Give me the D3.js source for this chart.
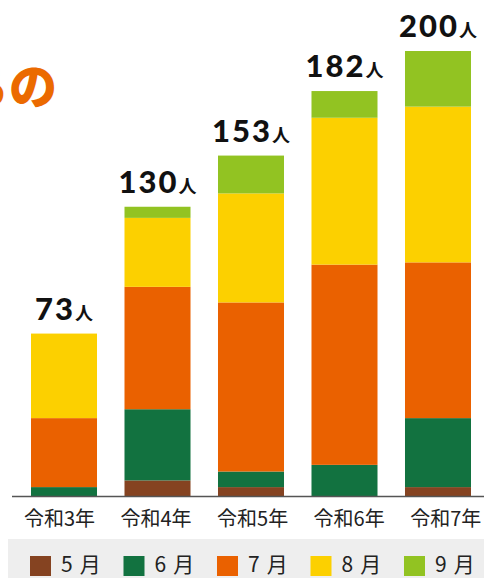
<!DOCTYPE html>
<html><head><meta charset="utf-8">
<script src="https://cdn.jsdelivr.net/npm/d3@7"></script>
<style>
html,body{margin:0;padding:0;background:#fff;}
svg{display:block;}
</style></head>
<body>
<svg id="c" width="484" height="578"></svg>
<script>
const years = ["令和3年","令和4年","令和5年","令和6年","令和7年"];
const months = ["5月","6月","7月","8月","9月"];
const colors = ["#854321","#127240","#EA6100","#FCD000","#92C322"];
const may  = [0, 7, 4, 0, 4];
const jun  = [4, 32, 7, 14, 31];
const jul  = [31, 55, 76, 90, 70];
const aug  = [38, 31, 49, 66, 70];
const sep  = [0, 5, 17, 12, 25];
const totals = [73, 130, 153, 182, 200];
const unit = "人";
const titleFragment = "ちの";

const svg = d3.select("#c");
const series = [may, jun, jul, aug, sep];
const rows = years.map((y, i) => {
  const r = {year: y};
  months.forEach((m, j) => r[m] = series[j][i]);
  return r;
});

const x = d3.scaleBand().domain(years).range([31, 471]).paddingInner(0.294).paddingOuter(0);
const xl = d3.scalePoint().domain(years).range([59.5, 445.7]);
const y = d3.scaleLinear().domain([0, 200]).range([496, 51]);
const color = d3.scaleOrdinal().domain(months).range(colors);

// title fragment (cut off at the left edge, as in the reference)
svg.append("text")
  .attr("x", 57).attr("y", 104)
  .attr("text-anchor", "end")
  .attr("font-family", "'Noto Sans CJK JP'")
  .attr("font-weight", 900)
  .attr("font-size", 48)
  .attr("fill", "#EB6A00")
  .text(titleFragment);

const stack = d3.stack().keys(months)(rows);
svg.append("g").selectAll("g").data(stack).join("g")
  .attr("fill", d => color(d.key))
  .selectAll("rect").data(d => d).join("rect")
  .attr("x", d => x(d.data.year))
  .attr("width", x.bandwidth())
  .attr("y", d => y(d[1]))
  .attr("height", d => y(d[0]) - y(d[1]));

// baseline axis
svg.append("line")
  .attr("x1", 12).attr("x2", 484)
  .attr("y1", 496.5).attr("y2", 496.5)
  .attr("stroke", "#555").attr("stroke-width", 1.6);

// total labels
const lab = svg.append("g").selectAll("text").data(years).join("text")
  .attr("x", d => x(d) + x.bandwidth() / 2)
  .attr("y", (d, i) => y(totals[i]) - 14)
  .attr("text-anchor", "middle")
  .attr("font-family", "Lato, 'DejaVu Sans', sans-serif")
  .attr("font-weight", 900)
  .attr("font-size", 31)
  .attr("letter-spacing", 2)
  .attr("fill", "#111");
lab.append("tspan").text((d, i) => totals[i]);
lab.append("tspan")
  .attr("font-family", "'Noto Sans CJK JP'")
  .attr("font-size", 18)
  .attr("font-weight", 700)
  .attr("letter-spacing", 0)
  .attr("dx", 0)
  .text(unit);

// x labels
svg.append("g").selectAll("text").data(years).join("text")
  .attr("x", d => xl(d))
  .attr("y", 526)
  .attr("text-anchor", "middle")
  .attr("font-family", "'Noto Sans CJK JP'")
  .attr("font-size", 20)
  .attr("fill", "#222")
  .text(d => d);

// legend
svg.append("rect").attr("x", 8).attr("y", 539).attr("width", 476).attr("height", 39).attr("fill", "#EEEEEE");
const lg = svg.append("g").selectAll("g").data(months).join("g")
  .attr("transform", (d, i) => `translate(${x(years[i]) - 1},0)`);
lg.append("rect").attr("x", 0).attr("y", 556).attr("width", 21).attr("height", 20)
  .attr("fill", d => color(d));
lg.append("text").attr("x", 31).attr("y", 572)
  .attr("font-family", "'Noto Sans CJK JP'")
  .attr("font-size", 21)
  .attr("fill", "#222")
  .each(function(d) {
    const t = d3.select(this);
    t.append("tspan").text(d.slice(0, -1));
    t.append("tspan").attr("dx", 7).text(d.slice(-1));
  });
</script>
</body></html>
